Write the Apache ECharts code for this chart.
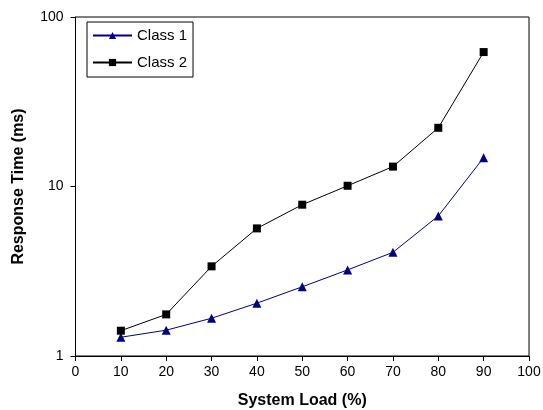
<!DOCTYPE html>
<html><head><meta charset="utf-8">
<script src="https://cdn.jsdelivr.net/npm/echarts@6/dist/echarts.min.js"></script>
<style>html,body{margin:0;padding:0;background:#fff}#c{width:543px;height:410px}</style>
</head><body><div id="c"></div>
<script>
const loads = [10, 20, 30, 40, 50, 60, 70, 80, 90];
const class1 = [1.29, 1.42, 1.67, 2.05, 2.56, 3.22, 4.09, 6.7, 14.8];
const class2 = [1.41, 1.76, 3.38, 5.66, 7.81, 10.1, 13.1, 22.2, 62.1];
const seriesNames = ['Class 1', 'Class 2'];
const xTitle = 'System Load (%)';
const yTitle = 'Response Time (ms)';

const font = 'Liberation Sans, Arial, sans-serif';
const chart = echarts.init(document.getElementById('c'), null, {renderer: 'canvas'});
chart.setOption({
  animation: false,
  backgroundColor: '#fff',
  grid: {left: 75.5, right: 14, top: 17, bottom: 54, outerBoundsMode: 'none', containLabel: false,
         show: true, borderColor: '#000', borderWidth: 1, backgroundColor: 'transparent'},
  legend: {
    orient: 'vertical', left: 87, top: 22,
    borderColor: '#000', borderWidth: 1, padding: [6, 6, 7, 5],
    itemWidth: 39, itemHeight: 9, itemGap: 12,
    textStyle: {fontFamily: font, fontSize: 15, color: '#000'},
    data: seriesNames
  },
  xAxis: {
    type: 'value', min: 0, max: 100, interval: 10,
    name: xTitle, nameLocation: 'middle', nameGap: 37,
    nameTextStyle: {fontFamily: font, fontSize: 16, fontWeight: 'bold', color: '#000'},
    axisLine: {lineStyle: {color: '#000'}},
    axisTick: {inside: false, length: 5, lineStyle: {color: '#000'}},
    axisLabel: {fontFamily: font, fontSize: 14, color: '#000', margin: 9},
    splitLine: {show: false}
  },
  yAxis: {
    type: 'log', logBase: 10, min: 1, max: 100,
    name: yTitle, nameLocation: 'middle', nameGap: 49, nameRotate: 90,
    nameTextStyle: {fontFamily: font, fontSize: 16, fontWeight: 'bold', color: '#000'},
    axisLine: {show: true, lineStyle: {color: '#000'}},
    axisTick: {show: true, length: 5, lineStyle: {color: '#000'}},
    axisLabel: {fontFamily: font, fontSize: 14, color: '#000', margin: 12},
    splitLine: {show: false},
    minorTick: {show: false}
  },
  series: [
    {name: seriesNames[0], type: 'line', data: loads.map((x, i) => [x, class1[i]]),
     symbol: 'triangle', symbolSize: 9, color: '#000080',
     lineStyle: {color: '#000080', width: 1}, itemStyle: {color: '#000080'}},
    {name: seriesNames[1], type: 'line', data: loads.map((x, i) => [x, class2[i]]),
     symbol: 'rect', symbolSize: 8, color: '#000',
     lineStyle: {color: '#000', width: 1}, itemStyle: {color: '#000'}}
  ]
});
</script></body></html>
